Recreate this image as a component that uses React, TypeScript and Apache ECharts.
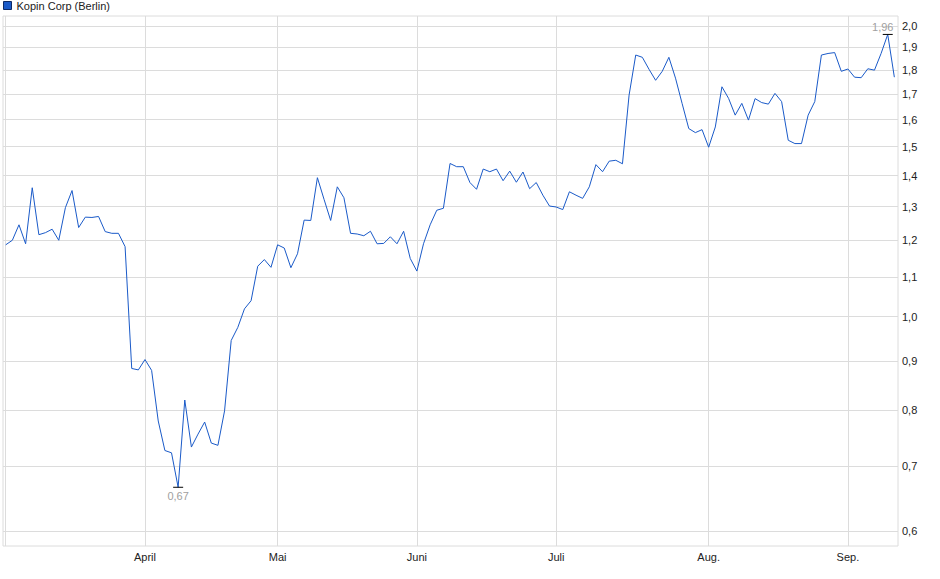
import * as echarts from 'echarts'
import { useEffect, useRef } from 'react'

const seriesName = 'Kopin Corp (Berlin)'
const lineColor = '#1a5ac8'
const gridColor = '#dcdcdc'

// Handelstage 2025 je Monat (März bis Sep.)
const monthNumbers = [3, 4, 5, 6, 7, 8, 9]
const monthLabels = ['', 'April', 'Mai', 'Juni', 'Juli', 'Aug.', 'Sep.']
const marchDays = [3, 4, 5, 6, 7, 10, 11, 12, 13, 14, 17, 18, 19, 20, 21, 24, 25, 26, 27, 28, 31]
const aprilDays = [1, 2, 3, 4, 7, 8, 9, 10, 11, 14, 15, 16, 17, 22, 23, 24, 25, 28, 29, 30]
const mayDays = [2, 5, 6, 7, 8, 9, 12, 13, 14, 15, 16, 19, 20, 21, 22, 23, 26, 27, 28, 29, 30]
const juneDays = [2, 3, 4, 5, 6, 9, 10, 11, 12, 13, 16, 17, 18, 19, 20, 23, 24, 25, 26, 27, 30]
const julyDays = [1, 2, 3, 4, 7, 8, 9, 10, 11, 14, 15, 16, 17, 18, 21, 22, 23, 24, 25, 28, 29, 30, 31]
const augustDays = [1, 4, 5, 6, 7, 8, 11, 12, 13, 14, 15, 18, 19, 20, 21, 22, 25, 26, 27, 28, 29]
const septemberDays = [1, 2, 3, 4, 5, 8, 9, 10]

// Schlusskurse in EUR
const prices = [
  1.187, 1.2, 1.245, 1.19, 1.36, 1.216, 1.222, 1.232, 1.2, 1.297,
  1.351, 1.237, 1.268, 1.267, 1.27, 1.225, 1.22, 1.22, 1.182, 0.884,
  0.881, 0.903, 0.88, 0.78, 0.727, 0.723, 0.666, 0.82, 0.733, 0.756,
  0.778, 0.74, 0.736, 0.799, 0.945, 0.975, 1.019, 1.039, 1.128, 1.146,
  1.125, 1.187, 1.178, 1.124, 1.162, 1.259, 1.258, 1.393, 1.323, 1.258,
  1.363, 1.328, 1.22, 1.218, 1.213, 1.226, 1.19, 1.191, 1.21, 1.19,
  1.226, 1.149, 1.115, 1.19, 1.245, 1.289, 1.295, 1.441, 1.43, 1.43,
  1.377, 1.355, 1.422, 1.413, 1.422, 1.383, 1.415, 1.378, 1.412, 1.357,
  1.377, 1.336, 1.302, 1.299, 1.291, 1.347, 1.336, 1.326, 1.363, 1.437,
  1.413, 1.449, 1.452, 1.44, 1.696, 1.866, 1.856, 1.804, 1.757, 1.795,
  1.856, 1.766, 1.662, 1.566, 1.551, 1.562, 1.498, 1.572, 1.73, 1.683,
  1.617, 1.663, 1.598, 1.682, 1.666, 1.66, 1.703, 1.67, 1.523, 1.511,
  1.511, 1.617, 1.67, 1.866, 1.873, 1.877, 1.795, 1.805, 1.77, 1.768,
  1.806, 1.8, 1.873, 1.96, 1.77,
]

const yTicks = [0.6, 0.7, 0.8, 0.9, 1.0, 1.1, 1.2, 1.3, 1.4, 1.5, 1.6, 1.7, 1.8, 1.9, 2.0]

const tradingDays = [marchDays, aprilDays, mayDays, juneDays, julyDays, augustDays, septemberDays]

const pad = (n: number) => String(n).padStart(2, '0')
const categories: string[] = tradingDays.flatMap((days, m) =>
  days.map(d => `2025-${pad(monthNumbers[m])}-${pad(d)}`)
)

// erster Handelstag je Monat
const monthStarts: number[] = []
tradingDays.reduce((offset, days) => {
  monthStarts.push(offset)
  return offset + days.length
}, 0)
const labelStarts = monthStarts.filter((_, m) => monthLabels[m] !== '')

const fmt = (v: number, digits: number) => v.toFixed(digits).replace('.', ',')

export default function App() {
  const chartRef = useRef<HTMLDivElement>(null)

  useEffect(() => {
    if (!chartRef.current) return
    const chart = echarts.init(chartRef.current, undefined, { renderer: 'svg' })

    const option: any = {
      animation: false,
      textStyle: { fontFamily: '"Liberation Sans", Arial, sans-serif' },
      legend: {
        data: [seriesName],
        left: 3,
        top: 0,
        padding: 0,
        icon: 'rect',
        itemWidth: 8,
        itemHeight: 8,
        itemStyle: { borderColor: '#0d2a66', borderWidth: 1 },
        textStyle: { fontSize: 11, color: '#222' },
        selectedMode: false,
      },
      grid: {
        left: 3,
        top: 16,
        right: 42,
        bottom: 33,
        show: true,
        borderColor: gridColor,
        borderWidth: 1,
        containLabel: false,
      },
      xAxis: {
        type: 'value',
        min: -0.41,
        max: 134.55,
        axisLine: { show: false },
        axisTick: { show: false, customValues: monthStarts },
        axisLabel: {
          customValues: labelStarts,
          formatter: (v: number) => monthLabels[monthStarts.indexOf(Math.round(v))] || '',
          color: '#222',
          fontSize: 11,
          margin: 5,
        },
        splitLine: { show: true, lineStyle: { color: gridColor, width: 1 } },
      },
      yAxis: {
        type: 'log',
        logBase: 10,
        position: 'right',
        min: 0.579,
        max: 2.048,
        axisLine: { show: false },
        axisTick: { show: true, length: 3, customValues: yTicks, lineStyle: { color: gridColor } },
        axisLabel: {
          customValues: yTicks,
          formatter: (v: number) => fmt(v, 1),
          color: '#222',
          fontSize: 11,
          margin: 4,
        },
        splitLine: { show: true, lineStyle: { color: gridColor, width: 1 } },
      },
      series: [
        {
          name: seriesName,
          type: 'line',
          data: prices.map((v, i) => [i, v, categories[i]]),
          symbol: 'none',
          lineStyle: { color: lineColor, width: 1 },
          itemStyle: { color: lineColor },
          markPoint: {
            symbol: 'rect',
            symbolSize: [10, 1],
            itemStyle: { color: '#000' },
            silent: true,
            label: {
              show: true,
              color: '#a0a0a0',
              fontSize: 11,
              formatter: (p: any) => fmt(Number(p.value), 2),
            },
            data: [
              { type: 'min', valueDim: 'y', label: { position: 'bottom', distance: 3 } },
              { type: 'max', valueDim: 'y', label: { position: 'top', distance: 1, offset: [-5, 0] } },
            ],
          },
        },
      ],
    }

    chart.setOption(option)

    return () => {
      chart.dispose()
    }
  }, [])

  return (
    <div
      ref={chartRef}
      style={{ position: 'fixed', left: 0, top: 0, width: '940px', height: '579px', background: '#fff' }}
    />
  )
}
